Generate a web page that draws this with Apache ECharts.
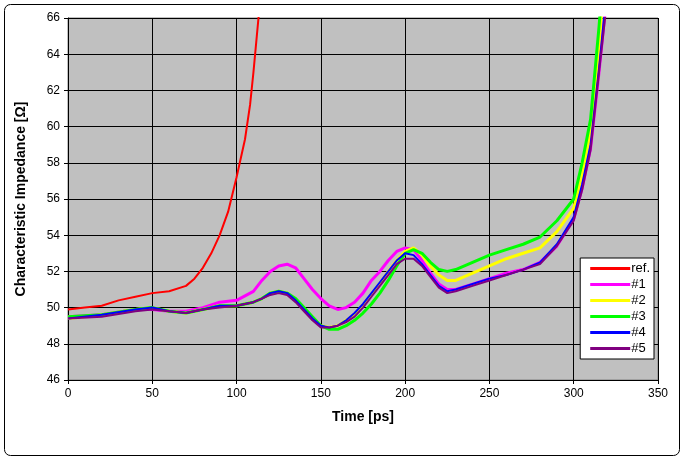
<!DOCTYPE html><html><head><meta charset="utf-8"><script src="https://cdn.jsdelivr.net/npm/echarts@6/dist/echarts.min.js"></script>
<style>body{margin:0}#c{width:680px;height:456px}</style></head><body><div id="c"></div><script>
var xTicks=[0,50,100,150,200,250,300,350];
var refX=[0,10,20,30,40,50,60,70,75,80,85,90,95,100,105,108,110,112,114];
var refY=[49.9,50.0,50.1,50.4,50.6,50.8,50.9,51.2,51.6,52.2,53.0,54.0,55.3,57.2,59.3,61.2,63,65,67];
var baseX=[0,20,40,50,60,70,80,90,100,110,115,120,125,130,135,140,145,150,155,160,165,170,175,180,185,190,195,200,205,210,215,220,225,230,240,250,260,270,280,290,300,305,310,315,318,321];
var s1=[49.5,49.6,49.9,49.9,49.8,49.8,50.0,50.3,50.4,50.9,51.5,52.0,52.3,52.4,52.2,51.6,51.0,50.5,50.1,49.9,50.0,50.3,50.8,51.5,52.0,52.6,53.1,53.3,53.2,52.6,51.9,51.3,51.0,51.0,51.3,51.6,51.9,52.1,52.5,53.4,54.9,56.6,58.8,63.0,65.8,68];
var s2=[49.4,49.6,49.9,50.0,49.8,49.7,49.9,50.1,50.1,50.3,50.5,50.8,50.9,50.8,50.4,49.9,49.4,49.0,48.9,49.0,49.3,49.6,50.1,50.7,51.3,52.0,52.6,53.1,53.3,52.9,52.3,51.8,51.5,51.5,51.9,52.3,52.7,53.0,53.3,54.2,55.5,57.4,59.7,64.5,68,69];
var s3=[49.5,49.6,49.9,50.0,49.8,49.7,49.9,50.1,50.1,50.3,50.5,50.8,50.9,50.8,50.5,50.0,49.5,49.0,48.8,48.8,49.0,49.3,49.7,50.2,50.8,51.5,52.3,53.0,53.2,53.0,52.5,52.1,52.0,52.1,52.5,52.9,53.2,53.5,53.9,54.8,56.0,58.0,60.4,65.5,69,70];
var s4=[49.4,49.6,49.9,50.0,49.8,49.7,49.9,50.1,50.1,50.3,50.5,50.8,50.9,50.8,50.4,49.9,49.4,49.0,48.9,49.0,49.3,49.7,50.2,50.8,51.4,52.0,52.6,53.0,52.9,52.4,51.8,51.2,50.9,51.0,51.3,51.6,51.8,52.1,52.5,53.5,55.0,56.8,59.0,63.2,66,68];
var s5=[49.4,49.5,49.8,49.9,49.8,49.7,49.9,50.0,50.1,50.3,50.5,50.7,50.8,50.7,50.3,49.8,49.3,48.9,48.9,49.0,49.2,49.5,50.0,50.6,51.2,51.8,52.4,52.7,52.7,52.3,51.7,51.1,50.8,50.9,51.2,51.5,51.8,52.1,52.4,53.4,54.8,56.5,58.7,63.0,65.5,68];
var names=['ref.','#1','#2','#3','#4','#5'];
var colors=['#ff0000','#ff00ff','#ffff00','#00ff00','#0000ff','#800080'];
function pairs(xs,ys){return xs.map(function(x,i){return [x,ys[i]];});}
var datas=[pairs(refX,refY),pairs(baseX,s1),pairs(baseX,s2),pairs(baseX,s3),pairs(baseX,s4),pairs(baseX,s5)];
var widths=[2,3,3,3,2,2];
var ch=echarts.init(document.getElementById('c'));
ch.setOption({
 animation:false,
 graphic:[{type:'rect',left:2,top:2,shape:{width:675,height:451,r:6},style:{fill:'none',stroke:'#000',lineWidth:1}}],
 grid:{left:68,right:22,top:18,bottom:76,backgroundColor:'#c0c0c0',show:true,borderColor:'#808080',borderWidth:1},
 legend:{right:26,top:258,orient:'vertical',itemWidth:40,itemHeight:3,itemGap:3,icon:'rect',backgroundColor:'#fff',borderColor:'#000',borderWidth:1,padding:[4,4,4,10],textStyle:{fontSize:13,color:'#000',padding:[0,0,0,-4]},data:names},
 xAxis:{type:'value',min:0,max:350,interval:50,name:'Time [ps]',nameLocation:'middle',nameGap:30,nameTextStyle:{fontSize:14,fontWeight:'bold',color:'#000'},
  axisLine:{lineStyle:{color:'#000'}},axisTick:{show:true,inside:false,length:4,lineStyle:{color:'#000'}},axisLabel:{color:'#000',fontSize:12},splitLine:{lineStyle:{color:'#000'}}},
 yAxis:{type:'value',min:46,max:66,interval:2,name:'Characteristic Impedance [Ω]',nameLocation:'middle',nameGap:40,nameTextStyle:{fontSize:14,fontWeight:'bold',color:'#000'},
  axisLine:{show:true,lineStyle:{color:'#000'}},axisTick:{show:true,length:4,lineStyle:{color:'#000'}},axisLabel:{color:'#000',fontSize:12},splitLine:{lineStyle:{color:'#000'}}},
 series:names.map(function(n,i){return {name:n,type:'line',data:datas[i],showSymbol:false,symbol:'none',clip:true,color:colors[i],lineStyle:{width:widths[i],color:colors[i]}};})
});
</script></body></html>
